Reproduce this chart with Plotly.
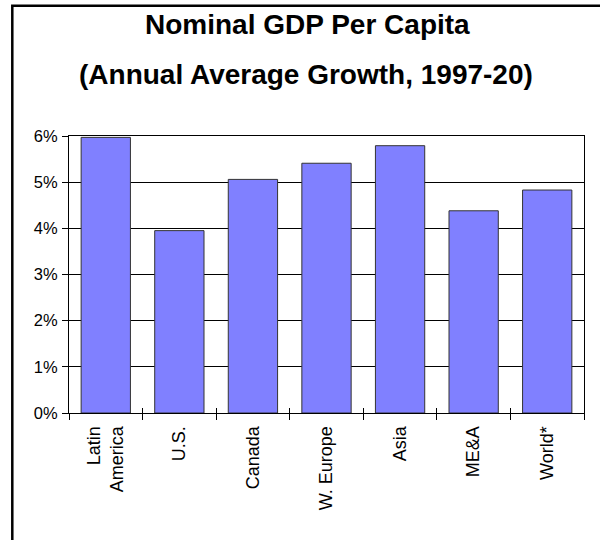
import plotly.graph_objects as go

categories = ["Latin<br>America", "U.S.", "Canada", "W. Europe", "Asia", "ME&A", "World*"]
growth_pct = [5.97, 3.95, 5.06, 5.41, 5.79, 4.38, 4.83]
title_line1 = "Nominal GDP Per Capita"
title_line2 = "(Annual Average Growth, 1997-20)"

FONT = "Liberation Sans, Arial, sans-serif"

# plot area in pixels
L, R, T, B = 69, 584, 136, 413.3
W, H = R - L, B - T

def px_x(x):
    return (x - L) / W

def px_y(y):
    return (B - y) / H

fig = go.Figure()
fig.add_trace(go.Bar(
    x=categories, y=growth_pct,
    marker=dict(color="#8080FF", line=dict(color="#333333", width=1)),
    hoverinfo="skip", showlegend=False,
))
# invisible twin trace to drive the inner half of the crossing x ticks
fig.add_trace(go.Bar(
    x=categories, y=growth_pct, xaxis="x2",
    marker=dict(color="rgba(0,0,0,0)", line=dict(width=0)),
    hoverinfo="skip", showlegend=False,
))

fig.update_layout(
    width=600, height=540,
    margin=dict(l=L, r=600 - R, t=T, b=540 - B),
    paper_bgcolor="white", plot_bgcolor="white",
    bargap=0.33,
    font=dict(family=FONT, color="black"),
    xaxis=dict(
        type="category", tickson="boundaries", ticks="outside", ticklen=6,
        tickcolor="black", tickwidth=1,
        showline=True, linecolor="black", linewidth=1, mirror=True,
        tickangle=-90, tickfont=dict(size=18, family=FONT, color="black"),
        ticklabelstandoff=5, showgrid=False,
    ),
    xaxis2=dict(
        type="category", overlaying="x", anchor="y", side="bottom",
        tickson="boundaries", ticks="inside", ticklen=5,
        tickcolor="black", tickwidth=1, showticklabels=False,
        showline=False, showgrid=False, matches="x",
    ),
    yaxis=dict(
        range=[0, 6], dtick=1, ticksuffix="%",
        ticks="outside", ticklen=6, tickcolor="black", tickwidth=1,
        showline=True, linecolor="black", linewidth=1, mirror=True,
        showgrid=True, gridcolor="black", gridwidth=1,
        tickfont=dict(size=16.5, family=FONT, color="black"),
        ticklabelstandoff=1,
        zeroline=False,
    ),
    shapes=[dict(
        type="rect", xref="paper", yref="paper",
        x0=px_x(12.3), x1=px_x(615), y0=px_y(560), y1=px_y(5.7),
        line=dict(color="black", width=2.5), fillcolor="rgba(0,0,0,0)",
        layer="above",
    )],
    annotations=[
        dict(text=title_line1, xref="paper", yref="paper",
             x=px_x(307), y=px_y(24), xanchor="center", yanchor="middle",
             showarrow=False, font=dict(size=28, family=FONT, color="black", weight="bold")),
        dict(text=title_line2, xref="paper", yref="paper",
             x=px_x(306), y=px_y(74.5), xanchor="center", yanchor="middle",
             showarrow=False, font=dict(size=28, family=FONT, color="black", weight="bold")),
    ],
)

fig.write_html("out.html")
